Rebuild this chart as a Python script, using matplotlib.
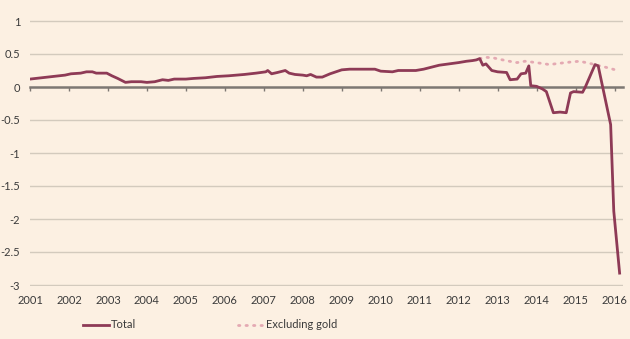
import matplotlib
matplotlib.use("Agg")
import matplotlib.pyplot as plt

# Net position series, time in decimal years
total_t = [2001.0, 2001.3, 2001.6, 2001.9, 2002.05, 2002.3, 2002.45, 2002.6, 2002.7,
           2002.97, 2003.1, 2003.25, 2003.45, 2003.6, 2003.85, 2004.0, 2004.2, 2004.4,
           2004.55, 2004.7, 2005.0, 2005.2, 2005.5, 2005.8, 2006.1, 2006.5, 2006.8,
           2007.05, 2007.1, 2007.2, 2007.35, 2007.55, 2007.65, 2007.8, 2008.0, 2008.1,
           2008.2, 2008.35, 2008.5, 2008.7, 2009.0, 2009.2, 2009.85, 2010.0, 2010.3,
           2010.45, 2010.9, 2011.1, 2011.3, 2011.5, 2011.75, 2012.0, 2012.2, 2012.35,
           2012.45, 2012.54, 2012.62, 2012.7, 2012.85, 2013.0, 2013.23, 2013.32, 2013.5,
           2013.6, 2013.72, 2013.8, 2013.85, 2014.0, 2014.15, 2014.25, 2014.43, 2014.6,
           2014.76, 2014.87, 2014.95, 2015.18, 2015.25, 2015.5, 2015.58, 2015.9,
           2015.98, 2016.13]
total_v = [0.12, 0.14, 0.16, 0.18, 0.20, 0.21, 0.23, 0.23, 0.21,
           0.21, 0.17, 0.13, 0.07, 0.08, 0.08, 0.07, 0.08, 0.11,
           0.10, 0.12, 0.12, 0.13, 0.14, 0.16, 0.17, 0.19, 0.21,
           0.23, 0.25, 0.20, 0.22, 0.25, 0.21, 0.19, 0.18, 0.17,
           0.19, 0.15, 0.15, 0.20, 0.26, 0.27, 0.27, 0.24, 0.23,
           0.25, 0.25, 0.27, 0.30, 0.33, 0.35, 0.37, 0.39, 0.40,
           0.41, 0.43, 0.33, 0.35, 0.25, 0.23, 0.22, 0.11, 0.12,
           0.20, 0.21, 0.32, 0.02, 0.01, -0.03, -0.07, -0.39, -0.38,
           -0.39, -0.09, -0.07, -0.08, 0.00, 0.34, 0.32, -0.57,
           -1.88, -2.82]

exgold_t = [2012.54, 2012.7, 2012.9, 2013.05, 2013.3, 2013.5, 2013.7, 2013.85, 2014.1,
            2014.33, 2014.6, 2014.9, 2015.1, 2015.35, 2015.55, 2015.7, 2015.9, 2016.13]
exgold_v = [0.43, 0.45, 0.44, 0.42, 0.39, 0.37, 0.39, 0.38, 0.36,
            0.34, 0.36, 0.38, 0.39, 0.36, 0.33, 0.31, 0.28, 0.24]

years = list(range(2001, 2017))
y_ticks = [1, 0.5, 0, -0.5, -1, -1.5, -2, -2.5, -3]
y_labels = ["1", "0.5", "0", "-0.5", "-1", "-1.5", "-2", "-2.5", "-3"]

# -----------------------------
# STYLE
# -----------------------------
plt.rcParams["font.family"] = ["Lato", "DejaVu Sans"]
plt.rcParams["font.size"] = 8

bg = "#fcf0e2"
line_col = "#8e3a56"
dot_col = "#e4a9b2"
grid_col = "#d3cabd"
zero_col = "#7d7873"
text_col = "#3a3a3a"

fig = plt.figure(figsize=(6.3, 3.39), dpi=100, facecolor=bg)

# axes spans x 30..623 px and y 21..285 px
W, H = 630, 339
x0, x1 = 30, 623
ypad = 0.02
y_top, y_bot = 21 - ypad * 66, 285 + ypad * 66
ax = fig.add_axes([x0 / W, 1 - y_bot / H, (x1 - x0) / W, (y_bot - y_top) / H])
ax.set_facecolor(bg)
ax.set_xlim(2001, 2001 + (x1 - x0) / 38.97)
ax.set_ylim(-3 - ypad, 1 + ypad)

# horizontal gridlines
for v in y_ticks:
    if v != 0:
        ax.axhline(v, color=grid_col, lw=1.0, zorder=1)

# zero line carries the year tick marks
for s in ["top", "right", "left"]:
    ax.spines[s].set_visible(False)
ax.spines["bottom"].set_position(("data", 0))
ax.spines["bottom"].set_color(zero_col)
ax.spines["bottom"].set_linewidth(1.8)
ax.spines["bottom"].set_zorder(2)
ax.set_xticks(years)
ax.tick_params(axis="x", direction="out", length=3, width=1, color=zero_col,
               labelbottom=False)

ax.set_yticks(y_ticks)
ax.set_yticklabels(y_labels)
ax.tick_params(axis="y", length=0, pad=7, labelcolor=text_col)

# year labels under the bottom gridline
sec = ax.secondary_xaxis("bottom")
sec.set_xticks(years)
sec.set_xticklabels([str(y) for y in years])
sec.tick_params(length=0, pad=6, labelcolor=text_col)
sec.spines["bottom"].set_visible(False)

# series
ax.plot(exgold_t, exgold_v, color=dot_col, lw=2.0, linestyle=(0, (0.5, 2.2)),
        dash_capstyle="round", zorder=3, label="Excluding gold")
ax.plot(total_t, total_v, color=line_col, lw=2.0, zorder=4, label="Total")

handles, labels = ax.get_legend_handles_labels()
fig.legend(handles[::-1], labels[::-1], loc="center left",
           bbox_to_anchor=(83 / W, 1 - 325 / H), ncol=2, frameon=False,
           borderpad=0, borderaxespad=0, handlelength=2.3, handletextpad=0.2,
           columnspacing=9.2, labelcolor=text_col)

fig.savefig("out.png", dpi=100, facecolor=bg)
